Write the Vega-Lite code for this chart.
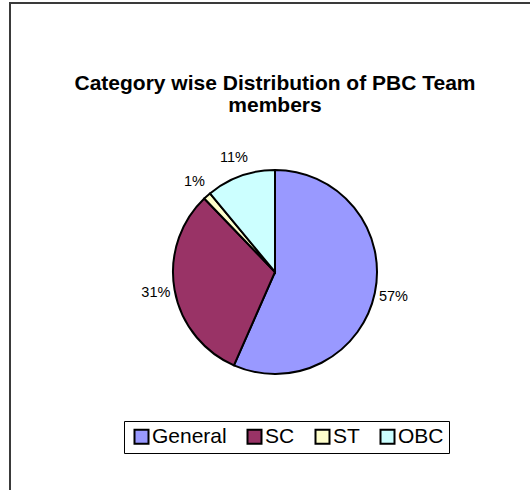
{
  "$schema": "https://vega.github.io/schema/vega-lite/v6.json",
  "autosize": "none",
  "width": 530,
  "height": 538,
  "padding": {"left": 10, "top": 3, "right": 0, "bottom": 0},
  "background": "white",
  "view": {"stroke": "#3a3a3a", "strokeWidth": 2},
  "config": {"view": {"stroke": "#3a3a3a", "strokeWidth": 2}, "font": "Liberation Sans"},
  "title": {
    "text": ["Category wise Distribution of PBC Team", "members"],
    "font": "Liberation Sans",
    "fontSize": 21,
    "fontWeight": "bold",
    "color": "#000000",
    "lineHeight": 22,
    "anchor": "middle",
    "frame": "group",
    "offset": -113
  },
  "data": {
    "values": [
      {"category": "General", "value": 56.6, "label": "57%", "order": 1},
      {"category": "SC", "value": 31.2, "label": "31%", "order": 2},
      {"category": "ST", "value": 1.2, "label": "1%", "order": 3},
      {"category": "OBC", "value": 11.0, "label": "11%", "order": 4}
    ]
  },
  "layer": [
    {
      "mark": {"type": "arc", "outerRadius": 102, "stroke": "#000000", "strokeWidth": 2},
      "encoding": {
        "theta": {"field": "value", "type": "quantitative", "stack": true},
        "order": {"field": "order", "type": "quantitative"},
        "color": {
          "field": "category",
          "type": "nominal",
          "sort": ["General", "SC", "ST", "OBC"],
          "scale": {"domain": ["General", "SC", "ST", "OBC"], "range": ["#9999FF", "#993366", "#FFFFCC", "#CCFFFF"]},
          "legend": {
            "orient": "none",
            "legendX": 114,
            "legendY": 418,
            "direction": "horizontal",
            "title": null,
            "symbolType": "square",
            "symbolSize": 196,
            "symbolStrokeColor": "#000000",
            "symbolStrokeWidth": 2,
            "symbolOffset": 2,
            "labelFontSize": 21,
            "labelFont": "Liberation Sans",
            "labelColor": "#000000",
            "labelOffset": 0,
            "columnPadding": 15,
            "padding": 5,
            "strokeColor": "#000000",
            "fillColor": "#ffffff"
          }
        }
      }
    },
    {
      "mark": {"type": "text", "radius": 121, "fontSize": 14.5, "font": "Liberation Sans", "color": "#000000"},
      "encoding": {
        "theta": {"field": "value", "type": "quantitative", "stack": true},
        "order": {"field": "order", "type": "quantitative"},
        "detail": {"field": "category", "type": "nominal"},
        "text": {"field": "label", "type": "nominal"}
      }
    }
  ]
}
